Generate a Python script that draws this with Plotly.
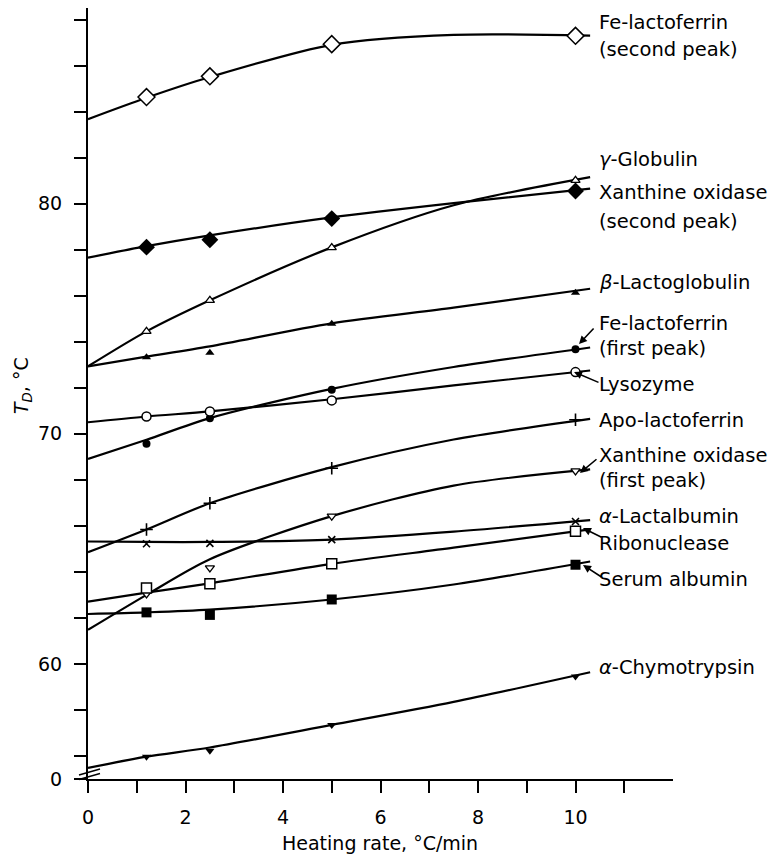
import plotly.graph_objects as go

# ---------------- data ----------------
rates = [1.2, 2.5, 5.0, 10.0]                  # measured heating rates, degC/min
curve_x = [0.0, 1.2, 2.5, 5.0, 7.5, 10.3]      # nodes of the fitted curves

fe_lf2_pts = [84.63, 85.53, 86.93, 87.29]
fe_lf2_curve = [83.67, 84.60, 85.50, 86.90, 87.33, 87.30]

gamma_pts = [74.45, 75.80, 78.09, 81.01]
gamma_curve = [72.93, 74.45, 75.80, 78.10, 79.93, 81.15]

xo2_pts = [78.11, 78.43, 79.35, 80.55]
xo2_curve = [77.65, 78.15, 78.62, 79.40, 80.02, 80.65]

blg_pts = [73.33, 73.52, 74.78, 76.13]
blg_curve = [72.93, 73.35, 73.80, 74.80, 75.48, 76.30]

fe_lf1_pts = [69.57, 70.68, 71.91, 73.67]
fe_lf1_curve = [68.91, 69.74, 70.68, 71.95, 72.90, 73.75]

lyso_pts = [70.75, 70.97, 71.45, 72.68]
lyso_curve = [70.50, 70.75, 70.97, 71.50, 72.10, 72.75]

apo_pts = [65.84, 66.98, 68.50, 70.61]
apo_curve = [64.85, 65.84, 66.98, 68.55, 69.75, 70.65]

xo1_pts = [63.04, 64.17, 66.42, 68.39]
xo1_curve = [61.48, 63.00, 64.55, 66.42, 67.75, 68.45]

alac_pts = [65.22, 65.24, 65.40, 66.19]
alac_curve = [65.32, 65.30, 65.30, 65.40, 65.75, 66.25]

ribo_pts = [63.30, 63.48, 64.35, 65.77]
ribo_curve = [62.71, 63.10, 63.50, 64.35, 65.05, 65.85]

serum_pts = [62.24, 62.13, 62.80, 64.31]
serum_curve = [62.17, 62.24, 62.36, 62.80, 63.45, 64.45]

chymo_pts = [55.97, 56.23, 57.35, 59.45]
chymo_curve = [55.48, 55.97, 56.37, 57.35, 58.35, 59.64]

x_tick_vals = [0, 1, 2, 3, 4, 5, 6, 7, 8, 9, 10, 11]
x_tick_text = ["0", "", "2", "", "4", "", "6", "", "8", "", "10", ""]
y_tick_vals = [55, 56, 58, 60, 62, 64, 66, 68, 70, 72, 74, 76, 78, 80, 82, 84, 86, 88]
y_tick_text = ["0", "", "", "60", "", "", "", "", "70", "", "", "", "", "80", "", "", "", ""]

# ---------------- figure ----------------
# the page body adds an 8 px offset, so the figure is laid out 8 px smaller
OFF = 8
W, H = 777 - OFF, 857 - OFF
ML, MT = 88 - OFF, 0
PW, PH = 585, 771
MR, MB = W - ML - PW, H - MT - PH
FONT = "DejaVu Sans"

def px_x(p):          # page pixel -> paper x
    return (p - OFF - ML) / PW

def px_y(p):          # page pixel -> paper y
    return 1 - (p - OFF - MT) / PH

fig = go.Figure()

series = [
    (fe_lf2_curve, fe_lf2_pts, dict(symbol="diamond", size=13, color="white", line=dict(color="black", width=1.5))),
    (gamma_curve, gamma_pts, dict(symbol="triangle-up", size=8, color="white", line=dict(color="black", width=1.3))),
    (xo2_curve, xo2_pts, dict(symbol="diamond", size=13, color="black", line=dict(color="black", width=0))),
    (blg_curve, blg_pts, dict(symbol="triangle-up", size=8, color="black", line=dict(color="black", width=0))),
    (fe_lf1_curve, fe_lf1_pts, dict(symbol="circle", size=8, color="black", line=dict(color="black", width=0))),
    (lyso_curve, lyso_pts, dict(symbol="circle", size=9, color="white", line=dict(color="black", width=1.5))),
    (apo_curve, apo_pts, dict(symbol="cross-thin", size=9, color="black", line=dict(color="black", width=1.6))),
    (xo1_curve, xo1_pts, dict(symbol="triangle-down", size=8, color="white", line=dict(color="black", width=1.3))),
    (alac_curve, alac_pts, dict(symbol="x-thin", size=7, color="black", line=dict(color="black", width=1.6))),
    (ribo_curve, ribo_pts, dict(symbol="square", size=10, color="white", line=dict(color="black", width=1.5))),
    (serum_curve, serum_pts, dict(symbol="square", size=10, color="black", line=dict(color="black", width=0))),
    (chymo_curve, chymo_pts, dict(symbol="triangle-down", size=8, color="black", line=dict(color="black", width=0))),
]

for cy, py, mk in series:
    fig.add_trace(go.Scatter(x=curve_x, y=cy, mode="lines",
                             line=dict(color="black", width=2.2, shape="spline", smoothing=0.8),
                             hoverinfo="skip", showlegend=False, cliponaxis=False))
for cy, py, mk in series:
    fig.add_trace(go.Scatter(x=rates, y=py, mode="markers", marker=mk,
                             showlegend=False, cliponaxis=False))

# curve labels: (text, centre page-pixel y)
labels = [
    ("Fe-lactoferrin", 21), ("(second peak)", 48),
    ("<i>γ</i>-Globulin", 159),
    ("Xanthine oxidase", 191), ("(second peak)", 220),
    ("<i>β</i>-Lactoglobulin", 281),
    ("Fe-lactoferrin", 322), ("(first peak)", 347),
    ("Lysozyme", 383),
    ("Apo-lactoferrin", 419),
    ("Xanthine oxidase", 454), ("(first peak)", 479),
    ("<i>α</i>-Lactalbumin", 515),
    ("Ribonuclease", 542),
    ("Serum albumin", 578),
    ("<i>α</i>-Chymotrypsin", 666),
]
annotations = []
for txt, yc in labels:
    annotations.append(dict(text=txt, xref="paper", yref="paper", x=px_x(597), y=px_y(yc + 1),
                            xanchor="left", yanchor="middle", showarrow=False,
                            font=dict(family=FONT, size=19.5, color="black")))

# pointer arrows: (tip page x, tip page y, tail dx, tail dy)
arrows = [(579, 344, 16, -17), (574, 372, 26, 11), (580, 473, 18, -15),
          (583, 528, 20, 10), (583, 565, 20, 13)]
for tx, ty, dx, dy in arrows:
    annotations.append(dict(text="", xref="paper", yref="paper", x=px_x(tx), y=px_y(ty),
                            ax=dx, ay=dy, showarrow=True, arrowhead=2, arrowsize=1,
                            arrowwidth=1.6, arrowcolor="black", standoff=0))

# axis titles
annotations.append(dict(text="<i>T</i><sub><i>D</i></sub>, °C", xref="paper", yref="paper",
                        x=px_x(22), y=px_y(386), textangle=-90, showarrow=False,
                        xanchor="center", yanchor="middle",
                        font=dict(family=FONT, size=19, color="black")))
annotations.append(dict(text="Heating rate, °C/min", xref="paper", yref="paper",
                        x=px_x(380), y=px_y(843), showarrow=False,
                        xanchor="center", yanchor="middle",
                        font=dict(family=FONT, size=19, color="black")))

# axis-break marks
shapes = [
    dict(type="line", xref="paper", yref="paper", x0=px_x(79), y0=px_y(775), x1=px_x(100), y1=px_y(769),
         line=dict(color="black", width=1.5)),
    dict(type="line", xref="paper", yref="paper", x0=px_x(79), y0=px_y(779.5), x1=px_x(100), y1=px_y(773.5),
         line=dict(color="black", width=1.5)),
]

fig.update_layout(
    width=W, height=H,
    margin=dict(l=ML, r=MR, t=MT, b=MB, pad=0),
    paper_bgcolor="white", plot_bgcolor="white",
    annotations=annotations, shapes=shapes,
    font=dict(family=FONT, size=19, color="black"),
)
fig.update_xaxes(range=[0, 12], tickvals=x_tick_vals, ticktext=x_tick_text,
                 ticks="outside", ticklen=12, tickwidth=2, tickcolor="black",
                 showline=True, linewidth=2, linecolor="black",
                 showgrid=False, zeroline=False, ticklabelstandoff=8,
                 tickfont=dict(family=FONT, size=19, color="black"))
fig.update_yaxes(range=[55, 88.5], tickvals=y_tick_vals, ticktext=y_tick_text,
                 ticks="outside", ticklen=12, tickwidth=2, tickcolor="black",
                 showline=True, linewidth=2, linecolor="black",
                 showgrid=False, zeroline=False, ticklabelstandoff=8,
                 tickfont=dict(family=FONT, size=19, color="black"))

fig.write_html("out.html")
